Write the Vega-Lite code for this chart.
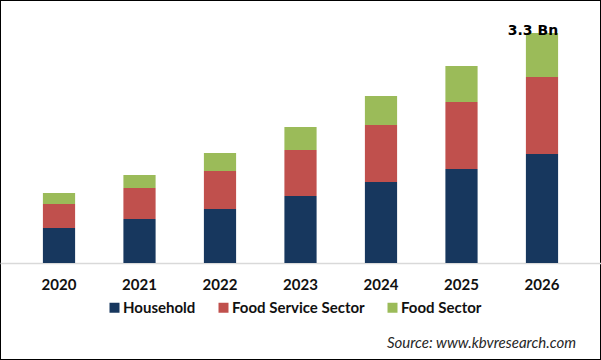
{
  "$schema": "https://vega.github.io/schema/vega-lite/v6.json",
  "width": 601,
  "height": 360,
  "autosize": {"type": "fit", "contains": "padding"},
  "padding": 0,
  "background": "#ffffff",
  "config": {
    "view": {"stroke": "#000000", "strokeWidth": 2},
    "font": "Lato"
  },
  "title": {
    "text": "Source: www.kbvresearch.com",
    "orient": "bottom",
    "anchor": "end",
    "frame": "group",
    "offset": -24,
    "dx": -25,
    "font": "Lato",
    "fontSize": 15,
    "fontStyle": "italic",
    "fontWeight": "normal",
    "color": "#262626"
  },
  "data": {
    "values": [
      {"year": "2020", "segment": "Household", "value": 0.502},
      {"year": "2020", "segment": "Food Service Sector", "value": 0.344},
      {"year": "2020", "segment": "Food Sector", "value": 0.158},
      {"year": "2021", "segment": "Household", "value": 0.631},
      {"year": "2021", "segment": "Food Service Sector", "value": 0.445},
      {"year": "2021", "segment": "Food Sector", "value": 0.187},
      {"year": "2022", "segment": "Household", "value": 0.775},
      {"year": "2022", "segment": "Food Service Sector", "value": 0.545},
      {"year": "2022", "segment": "Food Sector", "value": 0.258},
      {"year": "2023", "segment": "Household", "value": 0.961},
      {"year": "2023", "segment": "Food Service Sector", "value": 0.66},
      {"year": "2023", "segment": "Food Sector", "value": 0.33},
      {"year": "2024", "segment": "Household", "value": 1.162},
      {"year": "2024", "segment": "Food Service Sector", "value": 0.818},
      {"year": "2024", "segment": "Food Sector", "value": 0.416},
      {"year": "2025", "segment": "Household", "value": 1.349},
      {"year": "2025", "segment": "Food Service Sector", "value": 0.961},
      {"year": "2025", "segment": "Food Sector", "value": 0.517},
      {"year": "2026", "segment": "Household", "value": 1.564},
      {"year": "2026", "segment": "Food Service Sector", "value": 1.105},
      {"year": "2026", "segment": "Food Sector", "value": 0.631}
    ]
  },
  "encoding": {
    "x": {
      "field": "year",
      "type": "ordinal",
      "scale": {"paddingInner": 0.6, "paddingOuter": 0.533},
      "axis": {
        "title": null,
        "offset": -97,
        "labelAngle": 0,
        "labelFont": "Lato",
        "labelFontSize": 15,
        "labelFontWeight": "bold",
        "labelColor": "#111111",
        "labelPadding": 14,
        "ticks": false,
        "domainColor": "#d9d9d9",
        "domainWidth": 1.5,
        "grid": false
      }
    }
  },
  "layer": [
    {
      "mark": {"type": "bar"},
      "encoding": {
        "y": {
          "field": "value",
          "type": "quantitative",
          "aggregate": "sum",
          "stack": "zero",
          "scale": {"domain": [-1.3917, 3.7735], "nice": false, "zero": false},
          "axis": null
        },
        "color": {
          "field": "segment",
          "type": "nominal",
          "sort": ["Household", "Food Service Sector", "Food Sector"],
          "scale": {
            "domain": ["Household", "Food Service Sector", "Food Sector"],
            "range": ["#17375e", "#c0504d", "#9bbb59"]
          },
          "legend": {
            "title": null,
            "orient": "none",
            "direction": "horizontal",
            "legendX": 107,
            "legendY": 300,
            "symbolType": "square",
            "symbolSize": 100,
            "symbolStrokeWidth": 0,
            "labelFont": "Lato",
            "labelFontSize": 15,
            "labelFontWeight": "bold",
            "labelColor": "#111111",
            "labelOffset": 1,
            "columnPadding": 20
          }
        },
        "order": {"field": "segment", "sort": "descending"}
      }
    },
    {
      "transform": [
        {"aggregate": [{"op": "sum", "field": "value", "as": "total"}], "groupby": ["year"]},
        {"filter": "datum.year == '2026'"}
      ],
      "mark": {
        "type": "text",
        "align": "right",
        "baseline": "middle",
        "dy": -2,
        "font": "DejaVu Sans",
        "fontSize": 14,
        "fontWeight": "bold",
        "color": "#000000"
      },
      "encoding": {
        "x": {"field": "year", "type": "ordinal", "bandPosition": 1},
        "y": {"field": "total", "type": "quantitative"},
        "text": {"value": "3.3 Bn"}
      }
    }
  ]
}
